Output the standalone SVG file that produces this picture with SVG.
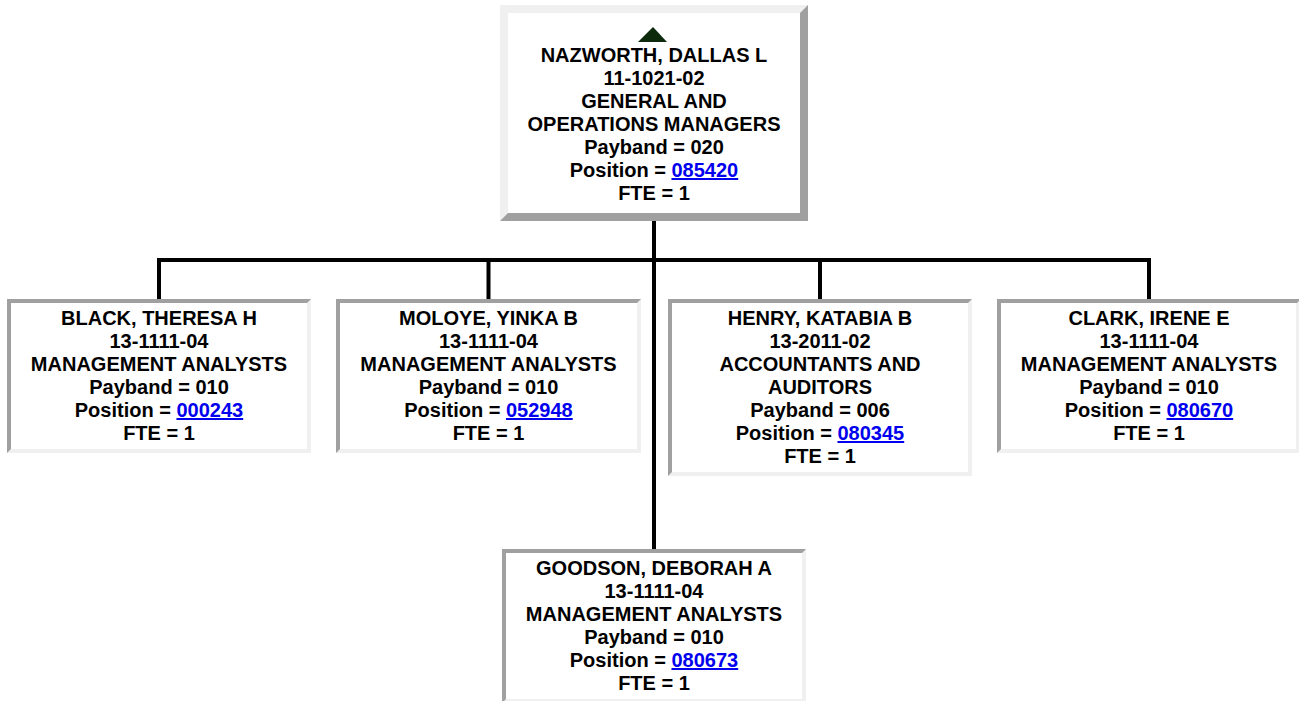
<svg xmlns="http://www.w3.org/2000/svg" width="1299" height="701" viewBox="0 0 1299 701">
<style>
  text { font-family: "Liberation Sans", Arial, sans-serif; font-weight: bold; font-size: 20px; fill: #000; text-anchor: middle; }
  .lnk { fill: #0000ee; text-decoration: underline; }
  .light { fill: #f0f0f0; }
  .dark { fill: #a0a0a0; }
  .inner { fill: #ffffff; }
  .conn { stroke: #000; stroke-width: 4; fill: none; }
</style>
<rect width="1299" height="701" fill="#ffffff"/>
<g id="connectors">
  <path class="conn" d="M654 221 V549"/>
  <path class="conn" d="M157 260 H1151"/>
  <path class="conn" d="M159 258 V299 M488.5 258 V299 M820 258 V299 M1149 258 V299"/>
</g>
<g id="node-nazworth">
  <rect class="dark" x="500" y="5" width="308" height="216"/>
  <polygon class="light" points="500,5 808,5 800,13 508,13 508,213 500,221"/>
  <rect class="inner" x="508" y="13" width="292" height="200"/>
  <polygon points="653,27 638,42 667,42" fill="#0d2a0d"/>
  <text x="654" y="62">NAZWORTH, DALLAS L</text>
  <text x="654" y="85">11-1021-02</text>
  <text x="654" y="108">GENERAL AND</text>
  <text x="654" y="131">OPERATIONS MANAGERS</text>
  <text x="654" y="154">Payband = 020</text>
  <text x="654" y="177">Position = <tspan class="lnk">085420</tspan></text>
  <text x="654" y="200">FTE = 1</text>
</g>
<g id="node-black">
  <rect class="light" x="7" y="299" width="304" height="154"/>
  <polygon class="dark" points="7,299 311,299 307,303 11,303 11,449 7,453"/>
  <rect class="inner" x="11" y="303" width="296" height="146"/>
  <text x="159" y="325">BLACK, THERESA H</text>
  <text x="159" y="348">13-1111-04</text>
  <text x="159" y="371">MANAGEMENT ANALYSTS</text>
  <text x="159" y="394">Payband = 010</text>
  <text x="159" y="417">Position = <tspan class="lnk">000243</tspan></text>
  <text x="159" y="440">FTE = 1</text>
</g>
<g id="node-moloye">
  <rect class="light" x="336" y="299" width="305" height="154"/>
  <polygon class="dark" points="336,299 641,299 637,303 340,303 340,449 336,453"/>
  <rect class="inner" x="340" y="303" width="297" height="146"/>
  <text x="488.5" y="325">MOLOYE, YINKA B</text>
  <text x="488.5" y="348">13-1111-04</text>
  <text x="488.5" y="371">MANAGEMENT ANALYSTS</text>
  <text x="488.5" y="394">Payband = 010</text>
  <text x="488.5" y="417">Position = <tspan class="lnk">052948</tspan></text>
  <text x="488.5" y="440">FTE = 1</text>
</g>
<g id="node-henry">
  <rect class="light" x="668" y="299" width="304" height="177"/>
  <polygon class="dark" points="668,299 972,299 968,303 672,303 672,472 668,476"/>
  <rect class="inner" x="672" y="303" width="296" height="169"/>
  <text x="820" y="325">HENRY, KATABIA B</text>
  <text x="820" y="348">13-2011-02</text>
  <text x="820" y="371">ACCOUNTANTS AND</text>
  <text x="820" y="394">AUDITORS</text>
  <text x="820" y="417">Payband = 006</text>
  <text x="820" y="440">Position = <tspan class="lnk">080345</tspan></text>
  <text x="820" y="463">FTE = 1</text>
</g>
<g id="node-clark">
  <rect class="light" x="997" y="299" width="304" height="154"/>
  <polygon class="dark" points="997,299 1301,299 1297,303 1001,303 1001,449 997,453"/>
  <rect class="inner" x="1001" y="303" width="295" height="146"/>
  <text x="1149" y="325">CLARK, IRENE E</text>
  <text x="1149" y="348">13-1111-04</text>
  <text x="1149" y="371">MANAGEMENT ANALYSTS</text>
  <text x="1149" y="394">Payband = 010</text>
  <text x="1149" y="417">Position = <tspan class="lnk">080670</tspan></text>
  <text x="1149" y="440">FTE = 1</text>
</g>
<g id="node-goodson">
  <rect class="light" x="502" y="549" width="304" height="154"/>
  <polygon class="dark" points="502,549 806,549 802,553 506,553 506,699 502,703"/>
  <rect class="inner" x="506" y="553" width="296" height="146"/>
  <text x="654" y="575">GOODSON, DEBORAH A</text>
  <text x="654" y="598">13-1111-04</text>
  <text x="654" y="621">MANAGEMENT ANALYSTS</text>
  <text x="654" y="644">Payband = 010</text>
  <text x="654" y="667">Position = <tspan class="lnk">080673</tspan></text>
  <text x="654" y="690">FTE = 1</text>
</g>
</svg>
